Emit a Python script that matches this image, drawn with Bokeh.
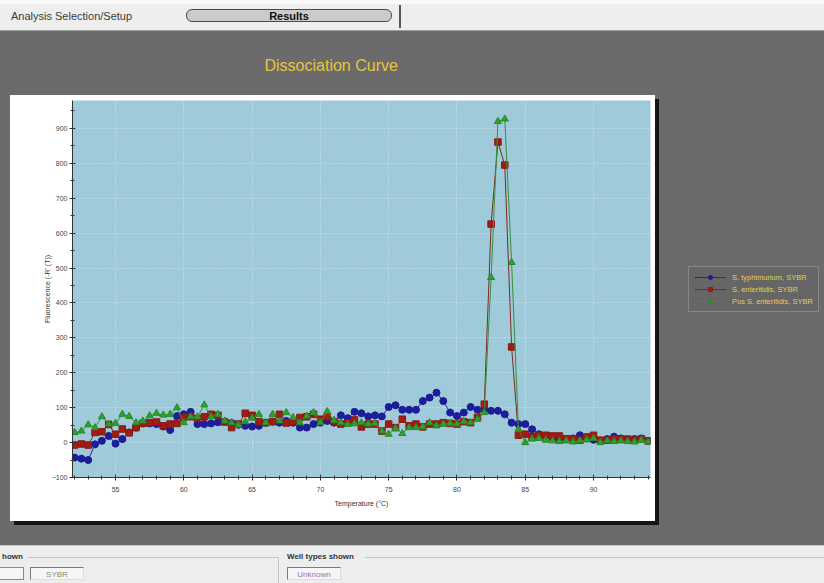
from bokeh.plotting import figure
from bokeh.layouts import column, row
from bokeh.models import (ColumnDataSource, Legend, LegendItem, FixedTicker, Div, Title, Range1d)
from bokeh.embed import file_html
from bokeh.resources import INLINE

# ---------------- data ----------------
temps = [52.0, 52.5, 53.0, 53.5, 54.0, 54.5, 55.0, 55.5, 56.0, 56.5,
         57.0, 57.5, 58.0, 58.5, 59.0, 59.5, 60.0, 60.5, 61.0, 61.5,
         62.0, 62.5, 63.0, 63.5, 64.0, 64.5, 65.0, 65.5, 66.0, 66.5,
         67.0, 67.5, 68.0, 68.5, 69.0, 69.5, 70.0, 70.5, 71.0, 71.5,
         72.0, 72.5, 73.0, 73.5, 74.0, 74.5, 75.0, 75.5, 76.0, 76.5,
         77.0, 77.5, 78.0, 78.5, 79.0, 79.5, 80.0, 80.5, 81.0, 81.5,
         82.0, 82.5, 83.0, 83.5, 84.0, 84.5, 85.0, 85.5, 86.0, 86.5,
         87.0, 87.5, 88.0, 88.5, 89.0, 89.5, 90.0, 90.5, 91.0, 91.5,
         92.0, 92.5, 93.0, 93.5, 94.0]

typhimurium = [-43, -46, -50, -5, 5, 19, -3, 10, 29, 43,
               55, 55, 53, 46, 36, 76, 81, 88, 53, 53,
               55, 58, 60, 56, 51, 48, 46, 48, 57, 60,
               57, 62, 57, 43, 43, 53, 57, 62, 57, 78,
               70, 88, 84, 75, 78, 75, 102, 107, 94, 94,
               94, 119, 129, 143, 119, 86, 76, 86, 102, 94,
               94, 91, 91, 81, 57, 53, 53, 38, 24, 19,
               12, 8, 10, 12, 21, 12, 8, 5, 10, 17,
               12, 8, 10, 12, 5]

enteritidis = [-7, -4, -7, 29, 31, 52, 24, 39, 28, 43,
               55, 57, 59, 48, 53, 55, 72, 74, 69, 74,
               81, 78, 59, 43, 53, 84, 78, 60, 57, 60,
               81, 56, 60, 72, 74, 81, 67, 74, 60, 53,
               57, 65, 45, 53, 53, 33, 53, 43, 67, 48,
               53, 45, 53, 53, 57, 55, 53, 60, 57, 72,
               110, 626, 861, 795, 274, 21, 24, 17, 21, 21,
               19, 19, 11, 11, 7, 16, 21, 7, 7, 11,
               10, 10, 7, 11, 5]

pos_enteritidis = [29, 33, 51, 43, 74, 53, 55, 81, 75, 57,
                   62, 77, 84, 79, 81, 100, 57, 74, 74, 108,
                   74, 81, 62, 57, 50, 60, 70, 81, 57, 81,
                   62, 86, 72, 57, 76, 86, 57, 89, 64, 57,
                   52, 54, 57, 53, 55, 33, 24, 41, 26, 43,
                   43, 45, 57, 48, 53, 55, 53, 60, 57, 67,
                   86, 473, 920, 927, 516, 38, 0, 10, 12, 7,
                   5, 3, 5, 2, 5, 8, 12, 0, 5, 3,
                   5, 3, 2, 7, 2]

series_names = ["S. typhimurium, SYBR", "S. enteritidis, SYBR", "Pos S. enteritidis, SYBR"]
x_ticks = [55, 60, 65, 70, 75, 80, 85, 90]
x_minor = list(range(52, 95))
y_ticks = [-100, 0, 100, 200, 300, 400, 500, 600, 700, 800, 900]
y_minor = [-100, -50, 0, 50, 100, 150, 200, 250, 300, 350, 400, 450, 500,
           550, 600, 650, 700, 750, 800, 850, 900, 950]

chart_title = "Dissociation Curve"
x_label = "Temperature (°C)"
y_label = "Fluorescence (-R' (T))"
tab_left = "Analysis Selection/Setup"
tab_button = "Results"
shown_caption = "hown"
well_caption = "Well types shown"
dye_box = "SYBR"
well_box = "Unknown"

FONT = "Liberation Sans"
CSS_FONT = "font-family:'Liberation Sans',Arial,sans-serif;"
GRAY = "#6b6b6b"

BLUE_L, BLUE_F, BLUE_E = "#2a2a9c", "#1c1ca0", "#1c1c8a"
RED_L, RED_F, RED_E = "#7d2a22", "#a01c14", "#8a1a12"
GRN_L, GRN_F, GRN_E = "#3a8f3a", "#2ea02e", "#268a26"

# ---------------- top bar (page y 0..31) ----------------
top_html = (
    f'<div style="position:relative;width:824px;height:31px;background:#eeeeee;{CSS_FONT}overflow:hidden;">'
    '<div style="position:absolute;left:0;top:0;width:824px;height:4px;background:#f9f9f9;"></div>'
    '<div style="position:absolute;left:0;top:30px;width:824px;height:1px;background:#9a9a9a;"></div>'
    f'<span style="position:absolute;left:11px;top:9px;font-size:11px;line-height:14px;color:#3a3a3a;white-space:nowrap;">{tab_left}</span>'
    '<div style="position:absolute;left:186px;top:9px;width:206px;height:13px;border:1.5px solid #4a4a4a;'
    'border-radius:6px;background:#cbcbcb;text-align:center;font-size:11px;line-height:13px;'
    f'font-weight:bold;color:#111111;">{tab_button}</div>'
    '<div style="position:absolute;left:399px;top:5px;width:2px;height:23px;background:#555555;"></div>'
    '</div>'
)
top_div = Div(text=top_html, width=824, height=31, margin=0)

# ---------------- bottom bar (page y 545..583) ----------------
bottom_html = (
    f'<div style="position:relative;width:824px;height:38px;background:#ededed;{CSS_FONT}overflow:hidden;">'
    '<div style="position:absolute;left:0;top:0;width:824px;height:1px;background:#c8c8c8;"></div>'
    '<div style="position:absolute;left:28px;top:12px;width:250px;height:1px;background:#c4c4c4;"></div>'
    '<div style="position:absolute;left:278px;top:12px;width:1px;height:26px;background:#c4c4c4;"></div>'
    '<div style="position:absolute;left:365px;top:12px;width:459px;height:1px;background:#c4c4c4;"></div>'
    f'<span style="position:absolute;left:2px;top:7px;font-size:8px;line-height:10px;font-weight:bold;color:#333333;">{shown_caption}</span>'
    f'<span style="position:absolute;left:287px;top:7px;font-size:8px;line-height:10px;font-weight:bold;color:#333333;white-space:nowrap;">{well_caption}</span>'
    '<div style="position:absolute;left:-2px;top:22px;width:26px;height:13px;border:1px solid #8a8a8a;background:#f6f6f6;"></div>'
    '<div style="position:absolute;left:30px;top:22px;width:54px;height:13px;border-top:1px solid #7a7a7a;border-left:1px solid #7a7a7a;'
    'border-right:1px solid #dddddd;border-bottom:1px solid #dddddd;background:#f6f6f6;text-align:center;'
    f'font-size:8px;line-height:13px;color:#8c8c5a;">{dye_box}</div>'
    '<div style="position:absolute;left:287px;top:22px;width:54px;height:13px;border-top:1px solid #7a7a7a;border-left:1px solid #7a7a7a;'
    'border-right:1px solid #dddddd;border-bottom:1px solid #dddddd;background:#f6f6f6;text-align:center;'
    f'font-size:8px;line-height:13px;color:#9a72b4;">{well_box}</div>'
    '</div>'
)
bottom_div = Div(text=bottom_html, width=824, height=38, margin=0)

# ---------------- chart figure (page x 0..662, y 31..545) ----------------
bg = ("linear-gradient(#ffffff,#ffffff) 10px 64px / 645px 426px no-repeat, "
      "linear-gradient(#151515,#151515) 14px 68px / 645px 426px no-repeat, "
      + GRAY)
p = figure(width=662, height=514, output_backend="svg", toolbar_location=None,
           x_range=(51.85, 94.17), y_range=(-100, 980),
           min_border_left=72, min_border_right=12,
           min_border_top=69, min_border_bottom=68,
           styles={"background": bg}, margin=0)
p.border_fill_color = None
p.border_fill_alpha = 0
p.background_fill_color = "#9ecada"
p.outline_line_color = None

p.title = Title(text=chart_title, align="left", offset=192, standoff=50,
                vertical_align="top",
                text_font=FONT, text_font_size="16px", text_color="#e8c43a",
                text_font_style="normal")

src = ColumnDataSource(dict(t=temps, b=typhimurium, r=enteritidis, g=pos_enteritidis))

def draw_series(fig):
    out = []
    out.append([fig.line("t", "b", source=src, line_color=BLUE_L, line_width=1),
                fig.scatter("t", "b", source=src, marker="circle", size=7,
                            fill_color=BLUE_F, line_color=BLUE_E)])
    out.append([fig.line("t", "r", source=src, line_color=RED_L, line_width=1),
                fig.scatter("t", "r", source=src, marker="square", size=6.5,
                            fill_color=RED_F, line_color=RED_E)])
    out.append([fig.line("t", "g", source=src, line_color=GRN_L, line_width=1),
                fig.scatter("t", "g", source=src, marker="triangle", size=7,
                            fill_color=GRN_F, line_color=GRN_E)])
    return out

draw_series(p)

# axes & grid
p.xaxis.ticker = FixedTicker(ticks=x_ticks, minor_ticks=x_minor)
p.yaxis.ticker = FixedTicker(ticks=y_ticks, minor_ticks=y_minor)
for ax in (p.xaxis[0], p.yaxis[0]):
    ax.axis_line_color = "#333333"
    ax.major_tick_line_color = "#333333"
    ax.minor_tick_line_color = "#333333"
    ax.major_tick_in = 3
    ax.major_tick_out = 3
    ax.minor_tick_in = 2
    ax.minor_tick_out = 2
    ax.major_label_text_font = FONT
    ax.major_label_text_font_size = "7px"
    ax.major_label_text_color = "#444444"
    ax.axis_label_text_font = FONT
    ax.axis_label_text_font_size = "7px"
    ax.axis_label_text_color = "#333333"
    ax.axis_label_text_font_style = "normal"
p.xaxis.axis_label = x_label
p.yaxis.axis_label = y_label
p.xaxis.major_label_standoff = 6
p.xaxis.axis_label_standoff = 5
p.yaxis.major_label_standoff = 2
p.yaxis.axis_label_standoff = -2

p.xgrid.ticker = FixedTicker(ticks=x_ticks)
p.ygrid.ticker = FixedTicker(ticks=y_ticks)
p.grid.grid_line_color = "#d4e2e8"
p.grid.grid_line_dash = "1 2"
p.grid.grid_line_width = 1

# ---------------- legend panel (page x 662..824, y 31..545) ----------------
# the series are drawn again here only for the legend keys; the ranges keep them off-screen
lg = figure(width=162, height=514, output_backend="svg", toolbar_location=None,
            x_range=Range1d(0, 1), y_range=Range1d(0, 1), min_border=0, margin=0,
            styles={"background": GRAY})
lg.axis.visible = False
lg.grid.visible = False
lg.outline_line_color = None
lg.background_fill_color = None
lg.background_fill_alpha = 0
lg.border_fill_color = None
lg.border_fill_alpha = 0
keys = draw_series(lg)
legend = Legend(items=[LegendItem(label=series_names[i], renderers=keys[i]) for i in range(3)],
                location=(26, 165))
legend.background_fill_color = "#666666"
legend.background_fill_alpha = 1
legend.border_line_color = "#a4a4a4"
legend.border_line_width = 1
legend.label_text_color = "#e2ce52"
legend.label_text_font = FONT
legend.label_text_font_size = "7.5px"
legend.glyph_width = 32
legend.glyph_height = 10
legend.label_height = 10
legend.spacing = 2
legend.padding = 5
legend.margin = 0
legend.label_standoff = 6
lg.add_layout(legend, "center")

layout = column(top_div, row(p, lg, spacing=0), bottom_div, spacing=0)
open("out.html", "w").write(file_html(layout, INLINE))
